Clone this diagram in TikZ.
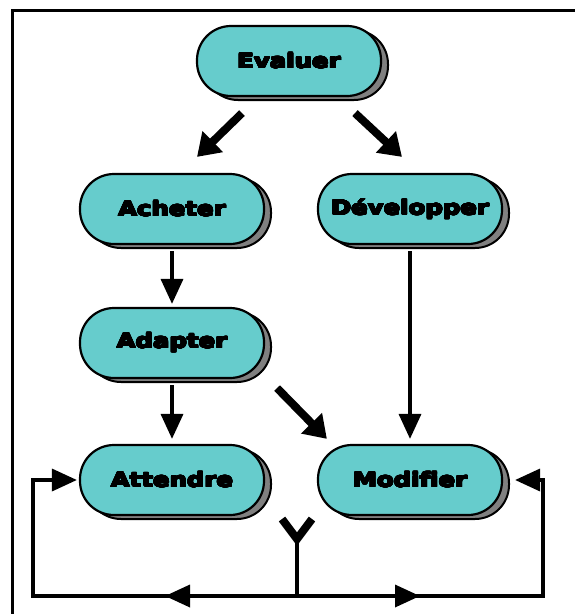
\documentclass[tikz,border=0pt]{standalone}
\usepackage{fontspec}
\usepackage[copies]{contour}
\contourlength{0.55pt}
\contournumber{24}
\newfontfamily\heavyfont{DejaVu Sans}[UprightFont={* Bold}, Ligatures=NoCommon]
\usetikzlibrary{arrows.meta,shadows,calc}
\definecolor{pillfill}{RGB}{102,204,204}
\definecolor{shadowgrey}{RGB}{128,128,128}
\tikzset{
  pill/.style={draw=black, line width=2.2pt, fill=pillfill, rounded corners=34pt,
    minimum width=184pt, minimum height=70pt, inner sep=0pt,
    font=\heavyfont\fontsize{20}{24}\selectfont,
    copy shadow={shadow xshift=7pt, shadow yshift=-4pt, fill=shadowgrey, draw=black, line width=2pt}},
  thinarrow/.style={line width=3.5pt, line join=miter, -{Triangle[length=25pt,width=22pt]}},
  thickarrow/.style={line width=8pt, -{Triangle[length=22pt,width=28pt]}},
  plainline/.style={line width=3.5pt},
  frameline/.style={line width=3pt},
}
\newcommand{\wide}[1]{\scalebox{1.22}[1]{\contour{black}{#1}}}
\begin{document}
\begin{tikzpicture}[x=1pt,y=-1pt]
\useasboundingbox (0,0) rectangle (575,614);
% frame
\coordinate (ftl) at (12,10);
\coordinate (ftr) at (575,10);
\coordinate (fbl) at (12,614);
\draw[frameline] (ftr) -- (ftl) -- (fbl);

% nodes
\node[pill] (eva) at (289,61)  {\wide{Evaluer}};
\node[pill] (ach) at (172,209) {\wide{Acheter}};
\node[pill] (dev) at (410,209) {\wide{Développer}};
\node[pill] (ada) at (172,343) {\wide{Adapter}};
\node[pill] (att) at (172,480) {\wide{Attendre}};
\node[pill] (mod) at (410,480) {\wide{Modifier}};

% top diagonals
\draw[thickarrow] ([xshift=-47pt,yshift=-16pt]eva.south) -- ([xshift=25pt,yshift=16pt]ach.north);
\draw[thickarrow] ([xshift=66pt,yshift=-16pt]eva.south) -- ([xshift=-8pt,yshift=16pt]dev.north);

% verticals
\draw[thinarrow, shorten <=6pt, shorten >=3pt] (ach.south) -- (ada.north);
\draw[thinarrow, shorten <=6pt, shorten >=5pt] (ada.south) -- (att.north);
\draw[thinarrow, shorten <=6pt, shorten >=5pt] (dev.south) -- (mod.north);

% Adapter -> Modifier
\draw[thickarrow] ([xshift=12pt,yshift=-9pt]ada.south east) -- ([xshift=10pt,yshift=5pt]mod.north west);

% feedback loop
\coordinate (fork) at (297,596);
\coordinate (ym) at (297,539);
\coordinate (bl) at (33,596);
\coordinate (br) at (543,596);
\draw[plainline] (fork) -- (ym);
\draw[line width=8pt, line join=miter] ($(ym)+(-15,-20)$) -- (ym) -- ($(ym)+(15,-20)$);
\draw[thinarrow, shorten >=2pt] (fork) -- (bl) |- (att.west);
\draw[thinarrow, shorten >=12pt] (fork) -- (br) |- (mod.east);
\draw[thinarrow] (fork) -- ($(fork)!0.5!(bl)$);
\draw[thinarrow] (fork) -- ($(fork)!0.5!(br)$);
\end{tikzpicture}
\end{document}
